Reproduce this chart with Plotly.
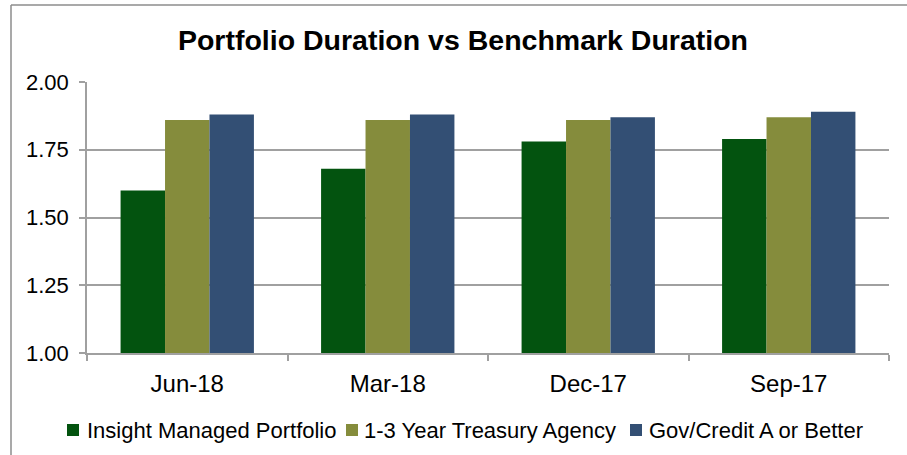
import plotly.graph_objects as go

categories = ["Jun-18", "Mar-18", "Dec-17", "Sep-17"]
insight = [1.60, 1.68, 1.78, 1.79]
treasury = [1.86, 1.86, 1.86, 1.87]
govcredit = [1.88, 1.88, 1.87, 1.89]
series_names = ["Insight Managed Portfolio", "1-3 Year Treasury Agency", "Gov/Credit A or Better"]
colors = ["#03530F", "#858C3C", "#334F74"]
y_ticks = [1.00, 1.25, 1.50, 1.75, 2.00]

W, H = 907, 455
L, R, T, B = 87, 889, 82, 353

fig = go.Figure()
for name, vals, col in zip(series_names, [insight, treasury, govcredit], colors):
    fig.add_trace(go.Bar(x=categories, y=vals, name=name, marker=dict(color=col, line=dict(width=0)),
                         showlegend=False))

def px_x(p):
    return (p - L) / (R - L)

def px_y(p):
    return (B - p) / (B - T)

# manual legend (one row, like the original)
legend_square_left = [67, 346, 630]
legend_text_left = [85, 362, 647]
legend_cy = 430
shapes = [
    dict(type="line", xref="paper", yref="paper", x0=px_x(11), x1=px_x(11), y0=px_y(5), y1=px_y(455),
         line=dict(color="#8C8C8C", width=1.5)),
    dict(type="line", xref="paper", yref="paper", x0=px_x(11), x1=px_x(907), y0=px_y(5), y1=px_y(5),
         line=dict(color="#8C8C8C", width=1.5)),
]
annotations = []
for name, col, sx, tx in zip(series_names, colors, legend_square_left, legend_text_left):
    shapes.append(dict(type="rect", xref="paper", yref="paper",
                       x0=px_x(sx), x1=px_x(sx + 12), y0=px_y(legend_cy + 6), y1=px_y(legend_cy - 6),
                       fillcolor=col, line=dict(width=0)))
    annotations.append(dict(text=name, xref="paper", yref="paper", x=px_x(tx), y=px_y(legend_cy),
                            xanchor="left", yanchor="middle", showarrow=False,
                            font=dict(size=22, color="#000000")))

fig.update_layout(
    width=W, height=H,
    margin=dict(l=L, r=W - R, t=T, b=H - B, pad=0),
    paper_bgcolor="white", plot_bgcolor="white",
    barmode="group", bargap=0.335, bargroupgap=0,
    font=dict(family="Liberation Sans, Arial, sans-serif", color="#000000"),
    title=dict(text="<b>Portfolio Duration vs Benchmark Duration</b>",
               font=dict(size=28.5, color="#000000"),
               xref="container", yref="container",
               x=463 / W, xanchor="center", y=1 - 40 / H, yanchor="middle"),
    showlegend=False,
    shapes=shapes,
    annotations=annotations,
)
fig.update_yaxes(range=[1.0, 2.0], tickvals=y_ticks, ticktext=["%.2f" % v for v in y_ticks],
                 showgrid=True, gridcolor="#A0A0A0", gridwidth=1.5,
                 showline=True, linecolor="#A0A0A0", linewidth=1.5,
                 ticks="outside", ticklen=6, tickcolor="#A0A0A0", tickwidth=1.5,
                 tickfont=dict(size=22), ticklabelstandoff=6, zeroline=False, automargin=False)
fig.update_xaxes(showline=True, linecolor="#A0A0A0", linewidth=1.5,
                 ticks="outside", tickson="boundaries", ticklen=6, tickcolor="#A0A0A0", tickwidth=1.5,
                 tickfont=dict(size=24), showgrid=False, ticklabelstandoff=8, automargin=False)

fig.write_html("out.html", config={"displayModeBar": False},
               post_script="document.body.style.margin='0';")
